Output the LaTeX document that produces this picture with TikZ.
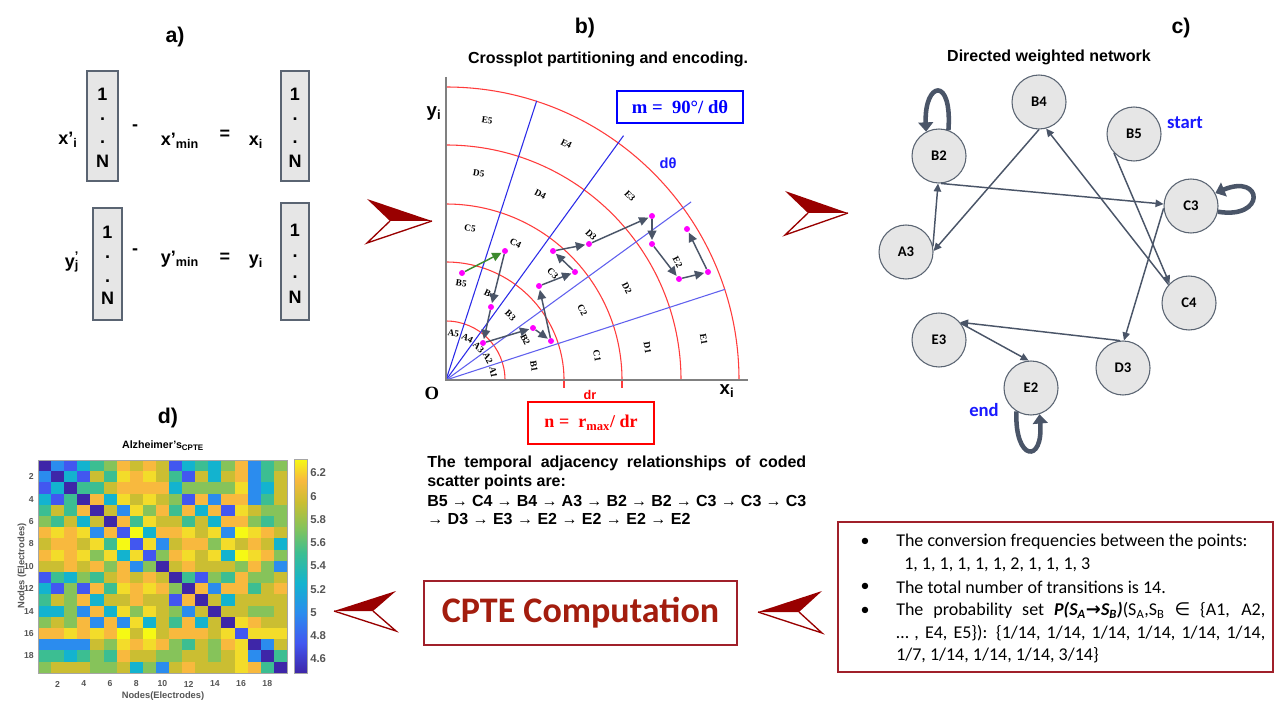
\documentclass[tikz,border=0pt]{standalone}
\usepackage{fontspec}
\setmainfont{Liberation Sans}
\newfontfamily\serifff{Liberation Serif}
\newfontfamily\calib{Carlito}
\newfontfamily\dejavu{DejaVu Sans}
\usetikzlibrary{arrows.meta,calc}
\definecolor{dred}{HTML}{990000}
\definecolor{cptered}{HTML}{A31D0E}
\definecolor{boxred}{HTML}{A0202A}
\definecolor{slate}{HTML}{4A5568}
\definecolor{nodegray}{HTML}{E6E6E6}
\definecolor{nodeedge}{HTML}{5A6472}
\definecolor{arcred}{HTML}{FF3B3B}
\definecolor{lineblue}{HTML}{2B2BE8}
\definecolor{mag}{HTML}{FF00FF}
\definecolor{grn}{HTML}{3D8A2E}
\definecolor{txtblue}{HTML}{1A1AFF}
\definecolor{tickgray}{HTML}{555555}
\definecolor{hmK}{HTML}{3E26A8}
\definecolor{hmB}{HTML}{4257F0}
\definecolor{hmL}{HTML}{2B8CEE}
\definecolor{hmC}{HTML}{13B3CF}
\definecolor{hmT}{HTML}{3CBE92}
\definecolor{hmG}{HTML}{86C35A}
\definecolor{hmO}{HTML}{CBBE32}
\definecolor{hmR}{HTML}{F8B93E}
\definecolor{hmY}{HTML}{F3DC2A}
\definecolor{hmW}{HTML}{F6F914}
\pgfdeclareverticalshading{parula}{100bp}{color(0bp)=(hmK); color(25bp)=(hmK); color(32bp)=(hmB); color(39bp)=(hmL); color(46bp)=(hmC); color(53bp)=(hmT); color(59bp)=(hmG); color(65bp)=(hmO); color(70bp)=(hmR); color(75bp)=(hmW); color(100bp)=(hmW)}
\newcommand\setfs[2]{\fontsize{#1}{#2}\selectfont}
\tikzset{
  paneltitle/.style={font=\bfseries\setfs{16}{18}},
  subtitle/.style={font=\bfseries\setfs{12}{14}},
  vecbox/.style={draw=nodeedge, fill=nodegray, line width=0.8pt, inner sep=0},
  atext/.style={font=\bfseries\setfs{13.5}{15}, inner sep=0},
  reg/.style={font=\serifff\bfseries\setfs{7}{8}, inner sep=0},
  sdot/.style={circle, fill=mag, inner sep=0, minimum size=4.5pt},
  sarrow/.style={draw=slate, line width=1.1pt, -{Triangle[length=7pt,width=6.5pt]}, shorten >=0.5pt},
  net/.style={circle, fill=nodegray, draw=nodeedge, line width=0.8pt, minimum size=40.5pt, inner sep=0, font=\calib\bfseries\setfs{11}{13}},
  nedge/.style={draw=slate, line width=1.1pt, -{Triangle[length=6pt,width=5.5pt]}},
  selfloop/.style={draw=slate, line width=3.4pt, -{Triangle[length=7pt,width=11pt]}},
  tick/.style={font=\bfseries\setfs{6.5}{7}, text=tickgray, inner sep=0},
  cbtick/.style={font=\bfseries\setfs{8.5}{9}, text=tickgray, inner sep=0, anchor=west},
  boxline/.style={font=\calib\setfs{13.5}{16}, inner sep=0, anchor=west}
}
\begin{document}
\begin{tikzpicture}[x=0.75pt,y=-0.75pt]
\useasboundingbox (0,0) rectangle (1280,720);
\fill[white] (0,0) rectangle (1280,720);

% ---------------- panel a ----------------
\node[paneltitle] (ta) at (175,37) {a)};
\node[vecbox, minimum width=23.25pt, minimum height=82.5pt] (v1) at (102.5,126) {};
\node[vecbox, minimum width=21pt, minimum height=82.5pt] (v2) at (295,126) {};
\node[vecbox, minimum width=21.75pt, minimum height=84pt] (v3) at (107.5,264) {};
\node[vecbox, minimum width=21pt, minimum height=87.75pt] (v4) at (295,261.5) {};
\foreach \x/\y/\t [count=\i] in {102.5/94/1, 102.5/119/., 102.5/142/., 102.5/161/N,
    295/94/1, 295/119/., 295/142/., 295/161/N,
    107.5/232/1, 107.5/257/., 107.5/281/., 107.5/298/N,
    295/230/1, 295/256/., 295/277/., 295/297/N}
  \node[atext] (vt\i) at (\x,\y) {\t};
\node[atext] (xp) at (68,140) {x’\textsubscript{i}};
\node[atext] (m1) at (135,128) {-};
\node[atext] (xm) at (180,141) {x’\textsubscript{min}};
\node[atext] (e1) at (225,135) {=};
\node[atext] (xi) at (256,142) {x\textsubscript{i}};
\node[atext] (yp) at (72,262) {y\rlap{\textsuperscript{’}}\textsubscript{j}};
\node[atext] (m2) at (135,252) {-};
\node[atext] (ym) at (180,259) {y’\textsubscript{min}};
\node[atext] (e2) at (225,258) {=};
\node[atext] (yi) at (256,262) {y\textsubscript{i}};

% ---------------- big chevron arrows ----------------
\fill[dred] (367,199) -- (432,221) -- (390,221) -- cycle;
\draw[dred, line width=1pt, line join=miter] (432,221) -- (367,243) -- (390,221);
\fill[dred] (785,191) -- (848,213) -- (808,213) -- cycle;
\draw[dred, line width=1pt, line join=miter] (848,213) -- (785,235) -- (808,213);
\fill[dred] (822,591) -- (758,612) -- (799,612) -- cycle;
\draw[dred, line width=1pt, line join=miter] (758,612) -- (822,633) -- (799,612);
\fill[dred] (396,591) -- (334,611) -- (373,611) -- cycle;
\draw[dred, line width=1pt, line join=miter] (334,611) -- (396,631) -- (373,611);

% ---------------- panel b ----------------
\node[paneltitle] (tb) at (585,28) {b)};
\node[subtitle] (tb2) at (608,59) {Crossplot partitioning and encoding.};
\coordinate (O) at (446,380);
\foreach \rr in {59,118,176,235,293}
  \draw[arcred, line width=0.8pt] ($(O)+(\rr,0)$) arc[start angle=0, end angle=-90, radius=\rr];
\draw[arcred, line width=0.8pt] (564,380) -- (564,388);
\draw[arcred, line width=0.8pt] (622,380) -- (622,388);
\draw[lineblue, line width=0.8pt] (O) -- ++(-72:293.5);
\draw[lineblue, line width=0.8pt] (O) -- ++(-54:302);
\draw[lineblue!75, line width=0.8pt] (O) -- ++(-36:303);
\draw[lineblue!75, line width=0.8pt] (O) -- ++(-18:293.5);
\draw[gray, line width=1pt] (446,77) -- (O) -- (748,380);
\foreach \nm/\ang/\rad in {A1/9/48, A2/27/47, A3/45/46, A4/63/47, A5/81/47,
    B1/9/89, B2/27/89, B3/45/91, B4/63/96, B5/81/98,
    C1/9/153, C2/27/153, C3/45/151, C4/63/153, C5/81/154,
    D1/9/204, D2/27/203, D3/45/205, D4/63/208, D5/81/209,
    E1/9/261, E2/27/260, E3/45/260, E4/63/265, E5/81/263}
  \node[reg, rotate=\ang-90] (lab\nm) at ($(O)+(-\ang:\rad)$) {\nm};
\node[font=\bfseries\setfs{14}{16}, inner sep=0] (ylab) at (434,114) {y\textsubscript{i}};
\node[font=\bfseries\setfs{14}{16}, inner sep=0] (xlab) at (727,391) {x\textsubscript{i}};
\node[font=\serifff\bfseries\setfs{14}{16}, inner sep=0] (olab) at (432,393) {O};
\node[font=\bfseries\setfs{11}{13}, text=txtblue, inner sep=0] (dth) at (668,163) {dθ};
\node[font=\bfseries\setfs{9.5}{11}, text=red, inner sep=0] (drl) at (590,395) {dr};
\node[draw=blue, line width=0.8pt, minimum width=94.5pt, minimum height=24pt, inner sep=0, font=\serifff\bfseries\setfs{14}{16}, text=blue] (mbox) at (680,107) {m =\ \ 90°/ dθ};
\node[draw=red, line width=0.8pt, minimum width=94.5pt, minimum height=31.5pt, inner sep=0, font=\serifff\bfseries\setfs{13.5}{16}, text=red] (nbox) at (591,423) {n =\ \ r\textsubscript{max}/ dr};
% scatter points
\node[sdot] (pB5) at (462,273) {};
\node[sdot] (pC4) at (505,251) {};
\node[sdot] (pB4) at (491,307) {};
\node[sdot] (pA3) at (483,343) {};
\node[sdot] (pB2a) at (533,328) {};
\node[sdot] (pB2b) at (551,341) {};
\node[sdot] (pC3a) at (539,286) {};
\node[sdot] (pC3b) at (575,272) {};
\node[sdot] (pC3c) at (553,251) {};
\node[sdot] (pD3) at (589,244) {};
\node[sdot] (pE3) at (652,216) {};
\node[sdot] (pE2a) at (652,244) {};
\node[sdot] (pE2b) at (679,279) {};
\node[sdot] (pE2c) at (708,272) {};
\node[sdot] (pE2d) at (687,229) {};
\draw[sarrow, draw=grn] (pB5) -- (pC4);
\draw[sarrow] (pC4) -- (pB4);
\draw[sarrow] (pB4) -- (pA3);
\draw[sarrow] (pA3) -- (pB2a);
\draw[sarrow] (pB2a) -- (pB2b);
\draw[sarrow] (pB2b) -- (pC3a);
\draw[sarrow] (pC3a) -- (pC3b);
\draw[sarrow] (pC3b) -- (pC3c);
\draw[sarrow] (pC3c) -- (pD3);
\draw[sarrow] (pD3) -- (pE3);
\draw[sarrow] (pE3) -- (pE2a);
\draw[sarrow] (pE2a) -- (pE2b);
\draw[sarrow] (pE2b) -- (pE2c);
\draw[sarrow] (pE2c) -- (pE2d);
% text under b
\node[font=\bfseries\setfs{12}{14}, inner sep=0, anchor=west] (tl1) at (427,463) {\makebox[284.25pt][s]{The temporal adjacency relationships of coded}};
\node[font=\bfseries\setfs{12}{14}, inner sep=0, anchor=west] (tl2) at (427,482) {scatter points are:};
\node[font=\bfseries\setfs{12}{14}, inner sep=0, anchor=west] (tl3) at (427,501) {\makebox[284.25pt][s]{B5 → C4 → B4 → A3 → B2 → B2 → C3 → C3 → C3}};
\node[font=\bfseries\setfs{12}{14}, inner sep=0, anchor=west] (tl4) at (427,519) {→ D3 → E3 → E2 → E2 → E2 → E2};

% ---------------- panel c ----------------
\node[paneltitle] (tc) at (1181,28) {c)};
\node[subtitle] (tc2) at (1049,57) {Directed weighted network};
\node[net] (B4) at (1039,102) {B4};
\node[net] (B5) at (1134,134) {B5};
\node[net] (B2) at (939,156) {B2};
\node[net] (C3) at (1191,206) {C3};
\node[net] (A3) at (906,252) {A3};
\node[net] (C4) at (1189,303) {C4};
\node[net] (E3) at (939,340) {E3};
\node[net] (D3) at (1123,368) {D3};
\node[net] (E2) at (1031,388) {E2};
\node[font=\calib\bfseries\setfs{14}{16}, text=txtblue, inner sep=0] (start) at (1185,123) {start};
\node[font=\calib\bfseries\setfs{14}{16}, text=txtblue, inner sep=0] (end) at (984,410) {end};
\draw[nedge] (B5.223) -- (C4.135);
\draw[nedge] (C4.138) -- (B4.-75);
\draw[nedge] (B4.-90) -- (A3.2);
\draw[nedge] (A3.12) -- (B2.-92);
\draw[nedge] (B2.-86) -- (C3.176);
\draw[nedge] (C3.185) -- (D3.88);
\draw[nedge] (D3.96) -- (E3.40);
\draw[nedge] (E3.37) -- (E2.95);
\draw[selfloop] (B2.70) .. controls +(4,-55) and +(-2,-50) .. (B2.118);
\draw[selfloop] (C3.-12) .. controls +(48,8) and +(48,-20) .. (C3.28);
\draw[selfloop] (E2.-122) .. controls +(-2,50) and +(4,50) .. (E2.-72);

% ---------------- panel d ----------------
\node[paneltitle] (td) at (168,418) {d)};
\node[font=\bfseries\setfs{8}{9}, inner sep=0] (hmt) at (163,446) {Alzheimer's\textsubscript{CPTE}};
\foreach \row [count=\rr] in {
 {K,L,B,C,T,G,R,O,R,O,B,C,T,C,G,R,L,T,G},
 {L,K,C,B,O,T,Y,R,Y,O,T,B,O,C,O,R,L,T,O},
 {B,C,K,T,T,O,R,R,R,R,C,G,G,G,G,Y,L,C,O},
 {C,B,T,K,R,C,Y,O,Y,O,G,B,R,L,R,R,L,T,O},
 {T,O,T,R,K,O,L,Y,G,R,T,R,C,R,B,Y,O,G,G},
 {G,T,O,C,O,K,R,T,Y,O,O,T,O,C,R,R,G,T,G},
 {R,Y,R,Y,L,R,B,W,C,R,R,Y,O,Y,L,W,Y,R,O},
 {O,R,R,O,Y,T,W,B,Y,L,O,R,R,G,Y,O,R,O,C},
 {R,Y,R,Y,G,Y,C,Y,B,G,R,Y,O,Y,C,W,Y,R,G},
 {O,O,R,O,R,G,R,L,G,K,O,R,O,O,O,G,R,G,L},
 {B,T,C,G,T,O,R,O,R,O,K,T,B,G,T,R,G,G,O},
 {C,B,G,B,R,T,Y,R,Y,R,G,K,R,L,R,R,T,O,R},
 {T,O,G,R,C,O,O,R,O,O,B,R,K,O,C,O,O,O,O},
 {C,C,G,L,R,C,Y,G,Y,O,G,L,O,K,O,O,G,G,O},
 {G,O,G,R,L,R,L,Y,C,O,T,R,C,O,K,Y,R,O,O},
 {R,R,Y,R,Y,R,W,O,W,O,R,R,R,O,Y,B,Y,Y,Y},
 {L,L,L,L,O,G,Y,R,Y,R,G,T,O,G,R,Y,K,L,O},
 {T,T,C,T,G,T,R,O,O,G,G,O,O,G,O,Y,L,K,T},
 {G,O,O,O,G,G,O,C,G,L,O,R,O,O,O,Y,R,T,K}}
{
  \foreach \c [count=\cc] in \row
    \fill[hm\c] ({38+(\cc-1)*13.1},{460+(\rr-1)*11.2}) rectangle ++(13.25,11.35);
}
\draw[gray!70, line width=0.6pt] (38,460) rectangle (287,673);
\foreach \k in {2,4,...,18} {
  \node[tick, anchor=east] at (34,{460+(\k-0.5)*11.2}) {\k};
  \node[tick] at ({38+(\k-0.5)*13.1},684) {\k};
}
\node[tick, font=\bfseries\setfs{7}{8}] (xl) at (163,696) {Nodes(Electrodes)};
\node[tick, font=\bfseries\setfs{7}{8}, rotate=90] (yl) at (22,566) {Nodes (Electrodes)};
\shade[shading=parula] (294,459) rectangle (307,673);
\draw[gray!70, line width=0.6pt] (294,459) rectangle (307,673);
\foreach \v/\lab in {6.2/6.2, 6.0/6, 5.8/5.8, 5.6/5.6, 5.4/5.4, 5.2/5.2, 5.0/5, 4.8/4.8, 4.6/4.6}
  \node[cbtick] at (310,{473+(6.2-\v)/0.2*23.25}) {\lab};

% ---------------- CPTE box and info box ----------------
\node[draw=boxred, line width=0.8pt, minimum width=234.75pt, minimum height=48pt, inner sep=0, font=\calib\bfseries\setfs{27}{30}, text=cptered] (cpte) at (580.5,613) {CPTE Computation};
\node[draw=boxred, line width=0.8pt, minimum width=326.25pt, minimum height=112.5pt, inner sep=0] (info) at (1055.5,597) {};
\foreach \y in {542,587,611}
  \node[font=\calib\setfs{13.5}{16}, inner sep=0] at (865,\y) {•};
\node[boxline] (i1) at (896,542) {The conversion frequencies between the points:};
\node[boxline] (i2) at (904,565) {1, 1, 1, 1, 1, 1, 2, 1, 1, 1, 3};
\node[boxline] (i3) at (896,587) {The total number of transitions is 14.};
\node[boxline] (i4) at (896,610) {\makebox[276.75pt][s]{The probability set \textbf{\textit{P(S\textsubscript{A}{\dejavu →}S\textsubscript{B})}}(S\textsubscript{A},S\textsubscript{B} {\dejavu ∈} \{A1, A2,}};
\node[boxline] (i5) at (896,633) {\makebox[276.75pt][s]{… , E4, E5\}): \{1/14, 1/14, 1/14, 1/14, 1/14, 1/14,}};
\node[boxline] (i6) at (896,655) {1/7, 1/14, 1/14, 1/14, 3/14\}};
\end{tikzpicture}
\end{document}
